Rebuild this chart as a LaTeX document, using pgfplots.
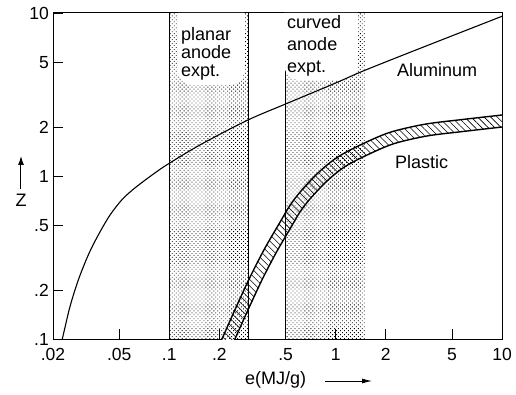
\documentclass[border=0pt]{standalone}
\usepackage{fontspec}
\setmainfont{Liberation Sans}
\usepackage{pgfplots}
\pgfplotsset{compat=1.18}
\usepgfplotslibrary{fillbetween}
\usetikzlibrary{patterns,patterns.meta,arrows.meta}

\begin{document}
\begin{tikzpicture}
\begin{axis}[
  at={(0pt,0pt)}, anchor=south west,
  scale only axis, width=449pt, height=326pt,
  xmode=log, ymode=log,
  xmin=0.02, xmax=10, ymin=0.1, ymax=10,
  xtick={0.02,0.05,0.1,0.2,0.5,1,2,5,10},
  xticklabels={.02,.05,.1,.2,.5,1,2,5,10},
  ytick={0.1,0.2,0.5,1,2,5,10},
  yticklabels={.1,.2,.5,1,2,5,10},
  xminorticks=false, yminorticks=false,
  tick align=inside, tick pos=left,
  major tick length=10pt,
  tick style={black, line width=0.8pt},
  axis line style={line width=1pt},
  ticklabel style={font=\fontsize{17.5}{17.5}\selectfont},
  xticklabel style={anchor=north, inner sep=0pt, yshift=-9pt},
  yticklabel style={anchor=east, inner sep=0pt, xshift=-4pt},
  clip=true,
]
% experiment regions
\addplot[draw=none, pattern={Dots[angle=45, distance=2.8pt, radius=0.6pt]}]
  coordinates {(0.1,0.09) (0.1,11) (0.3,11) (0.3,0.09)};
\addplot[draw=none, pattern={Dots[angle=45, distance=2.8pt, radius=0.6pt]}]
  coordinates {(0.5,0.09) (0.5,11) (1.5,11) (1.5,0.09)};
\addplot[black, line width=0.7pt] coordinates {(0.1,0.1) (0.1,10)};
\addplot[black, line width=0.7pt] coordinates {(0.3,0.1) (0.3,10)};
\addplot[black, line width=0.7pt] coordinates {(0.5,0.1) (0.5,10)};

% white label backgrounds
\fill[white] (rel axis cs:0.2784,1) [rounded corners=14pt] -- (rel axis cs:0.2784,0.7791) -- (rel axis cs:0.4254,0.7791) [sharp corners] -- (rel axis cs:0.4254,1) -- cycle;
\fill[white] (rel axis cs:0.5145,1) [rounded corners=16pt] -- (rel axis cs:0.5145,0.7945) -- (rel axis cs:0.6793,0.7945) [sharp corners] -- (rel axis cs:0.6793,1) -- cycle;

\node[anchor=north west, align=left, inner sep=0pt, font=\fontsize{18}{18}\selectfont]
  at (rel axis cs:0.2851,0.9571) {planar\\anode\\expt.};
\node[anchor=north west, align=left, inner sep=0pt, font=\fontsize{18}{22}\selectfont]
  at (rel axis cs:0.5212,0.9939) {curved\\anode\\expt.};

% Plastic band
\addplot[name path=up, draw=none, smooth] coordinates {
 (0.1875,0.0794) (0.2073,0.1) (0.2555,0.1616) (0.311,0.2484) (0.3784,0.3658)
 (0.4606,0.5157) (0.5313,0.6601) (0.6169,0.8056) (0.7792,1.039) (1.005,1.286)
 (1.353,1.521) (2.096,1.846) (3.436,2.078) (5.707,2.218) (10,2.367)};
\addplot[name path=low, draw=none, smooth] coordinates {
 (0.2243,0.0794) (0.2481,0.1) (0.2971,0.1506) (0.3606,0.2301) (0.4377,0.337)
 (0.5313,0.4729) (0.6101,0.6013) (0.7008,0.7227) (0.8742,0.9188) (1.106,1.120)
 (1.459,1.308) (2.21,1.572) (3.537,1.76) (5.82,1.875) (10,1.998)};
\addplot[fill=white, draw=none] fill between[of=up and low];
\addplot[draw=none, pattern={Lines[angle=-45, distance=4.6pt, line width=0.55pt]}] fill between[of=up and low];
\addplot[black, line width=1.4pt, smooth] coordinates {
 (0.1875,0.0794) (0.2073,0.1) (0.2555,0.1616) (0.311,0.2484) (0.3784,0.3658)
 (0.4606,0.5157) (0.5313,0.6601) (0.6169,0.8056) (0.7792,1.039) (1.005,1.286)
 (1.353,1.521) (2.096,1.846) (3.436,2.078) (5.707,2.218) (10,2.367)};
\addplot[black, line width=1.4pt, smooth] coordinates {
 (0.2243,0.0794) (0.2481,0.1) (0.2971,0.1506) (0.3606,0.2301) (0.4377,0.337)
 (0.5313,0.4729) (0.6101,0.6013) (0.7008,0.7227) (0.8742,0.9188) (1.106,1.120)
 (1.459,1.308) (2.21,1.572) (3.537,1.76) (5.82,1.875) (10,1.998)};

% Aluminum
\addplot[black, line width=1.1pt, smooth] coordinates {
 (0.02158,0.0794) (0.02275,0.1) (0.0253,0.158) (0.02838,0.230) (0.03258,0.3275)
 (0.03743,0.4345) (0.044,0.576) (0.05174,0.7125) (0.05803,0.7967) (0.06511,0.8769)
 (0.08204,1.045) (0.0986,1.186) (0.1529,1.551) (0.2942,2.196) (0.5,2.765)
 (1.0,3.72) (1.465,4.41) (3.0,5.90) (10,9.55)};

\node[anchor=base west, inner sep=0pt, font=\fontsize{18}{18}\selectfont]
  at (rel axis cs:0.7661,0.8037) {Aluminum};
\node[anchor=base west, inner sep=0pt, font=\fontsize{18}{18}\selectfont]
  at (rel axis cs:0.7617,0.5245) {Plastic};
\end{axis}

\node[inner sep=0pt, font=\fontsize{18}{18}\selectfont] at (-32pt,139pt) {Z};
\draw[-{Latex[length=9pt,width=6pt]}, line width=1pt] (-32pt,150pt) -- (-32pt,183pt);
\node[anchor=west, inner sep=0pt, font=\fontsize{18}{18}\selectfont] at (192pt,-41pt) {e(MJ/g)};
\draw[-{Latex[length=10pt,width=5pt]}, line width=0.9pt] (272pt,-42pt) -- (319pt,-42pt);
\path (-53pt,-55pt) rectangle (463pt,339pt);
\end{tikzpicture}
\end{document}
